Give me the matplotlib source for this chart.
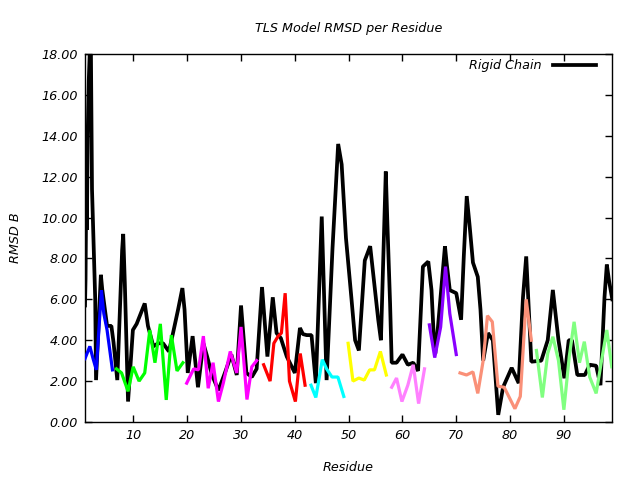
import matplotlib
matplotlib.use("Agg")
import matplotlib.pyplot as plt

# ---- data ----
rigid_x = [1.0, 1.1, 1.25, 1.35, 1.5, 1.7, 1.9, 2.1, 2.3, 2.6, 2.9, 3.05,
           3.95, 4.2, 5.1, 5.9, 6.3, 7.0, 7.9, 8.1, 8.4, 9.0, 9.9, 10.6,
           12.1, 12.7, 13.7, 14.6, 15.5, 16.6, 17.4, 18.3, 19.1, 19.5, 20.1,
           21.0, 22.0, 23.0, 23.7, 24.6, 25.8, 27.0, 28.2, 29.2, 30.0, 31.0,
           32.0, 32.9, 33.9, 34.9, 35.9, 36.6, 37.4, 38.5, 40.0, 40.95, 41.5,
           42.2, 43.1, 43.9, 45.0, 45.9, 47.0, 48.05, 48.7, 49.5, 50.5, 51.2,
           51.9, 53.0, 54.0, 55.5, 56.0, 56.9, 57.2, 57.7, 58.0, 58.9, 60.0,
           61.0, 62.0, 62.9, 63.8, 64.8, 65.4, 65.85, 66.1, 66.6, 67.9, 68.2,
           68.8, 70.0, 70.9, 71.4, 71.95, 72.5, 73.1, 74.0, 74.5, 75.0, 75.9,
           76.8, 77.8, 78.7, 80.3, 81.6, 82.4, 83.0, 83.95, 85.8, 87.0, 87.95,
           89.0, 90.1, 90.9, 91.5, 92.5, 93.9, 94.8, 96.0, 96.8, 97.55, 97.98,
           98.4, 99.0]
rigid_v = [5.7, 7.0, 11.9, 9.4, 14.0, 16.7, 18.2, 18.2, 11.4, 8.7, 6.0, 2.05,
           7.2, 6.5, 4.7, 4.7, 3.9, 2.05, 8.4, 9.2, 6.8, 1.0, 4.5, 4.8,
           5.8, 4.7, 3.7, 3.85, 3.85, 3.45, 4.4, 5.5, 6.55, 5.5, 2.4,
           4.2, 1.7, 3.85, 3.2, 2.3, 1.55, 2.4, 3.3, 2.3, 5.7, 2.4,
           2.2, 2.6, 6.6, 3.2, 6.1, 4.35, 4.1, 3.2, 2.4, 4.6, 4.3,
           4.25, 4.25, 1.9, 10.05, 2.05, 8.5, 13.6, 12.6, 9.0, 6.1, 4.0,
           3.5, 7.9, 8.6, 5.0, 4.0, 12.25, 9.7, 5.8, 2.9, 2.9, 3.3,
           2.8, 2.9, 2.5, 7.6, 7.85, 6.45, 4.0, 3.35, 4.65, 8.6, 7.8,
           6.45, 6.3, 5.0, 8.1, 11.05, 9.55, 7.8, 7.1, 5.5, 3.0, 4.35,
           4.0, 0.35, 1.7, 2.65, 1.9, 6.1, 8.1, 2.95, 3.0, 4.0, 6.46,
           4.0, 2.14, 4.0, 4.0, 2.3, 2.3, 2.8, 2.75, 1.8, 6.1, 7.7,
           6.9, 6.0]

group_blue_x = [1.0, 1.9, 2.5, 3.1, 4.05, 4.5, 5.1, 6.1]
group_blue_v = [3.1, 3.7, 3.1, 2.55, 6.45, 5.3, 4.5, 2.55]

group_green_x = [6.85, 7.8, 9.0, 9.95, 11.05, 12.1, 13.05, 14.0, 15.0, 16.1, 17.05, 18.1, 19.2]
group_green_v = [2.6, 2.4, 1.5, 2.7, 2.0, 2.4, 4.5, 2.9, 4.8, 1.08, 4.25, 2.5, 2.9]

group_magenta_x = [19.9, 21.2, 22.1, 23.0, 23.9, 24.8, 25.8, 26.7, 28.0, 29.2, 30.0, 31.1, 32.0, 32.9]
group_magenta_v = [1.9, 2.6, 2.55, 4.2, 1.65, 2.9, 1.0, 1.9, 3.45, 2.4, 4.65, 1.1, 2.7, 3.0]

group_red_x = [34.2, 35.4, 36.1, 36.9, 37.5, 38.2, 39.0, 40.1, 41.0, 41.9]
group_red_v = [2.8, 2.0, 3.85, 4.2, 4.35, 6.3, 2.0, 1.0, 3.35, 1.8]

group_cyan_x = [43.0, 43.9, 45.1, 45.9, 46.9, 48.0, 49.1]
group_cyan_v = [1.8, 1.2, 3.05, 2.6, 2.2, 2.2, 1.25]

group_yellow_x = [49.9, 50.8, 51.9, 52.9, 53.9, 54.8, 55.9, 57.0]
group_yellow_v = [3.85, 2.0, 2.15, 2.05, 2.55, 2.55, 3.45, 2.3]

group_pink_x = [58.0, 58.9, 59.9, 61.0, 62.0, 63.0, 64.1]
group_pink_v = [1.7, 2.15, 1.0, 1.8, 2.8, 0.9, 2.6]

group_purple_x = [65.0, 66.0, 67.1, 68.0, 68.8, 70.0]
group_purple_v = [4.75, 3.15, 4.65, 7.6, 5.3, 3.3]

group_salmon_x = [70.7, 71.9, 73.1, 74.0, 75.0, 75.8, 76.7, 77.75, 78.9, 80.9, 81.9, 83.0, 83.95]
group_salmon_v = [2.4, 2.3, 2.45, 1.4, 3.0, 5.2, 4.9, 1.75, 1.7, 0.65, 1.25, 6.0, 4.0]

group_lgreen_x = [84.9, 86.0, 87.0, 87.96, 89.0, 90.0, 91.0, 91.9, 92.9, 93.8, 94.8, 96.0, 97.0, 97.98, 98.9]
group_lgreen_v = [3.5, 1.2, 3.36, 4.17, 3.0, 0.6, 3.2, 4.9, 2.9, 3.93, 2.2, 1.4, 3.0, 4.5, 2.7]

groups = [
    (group_blue_x, group_blue_v, "#0000ff"),
    (group_green_x, group_green_v, "#00ff00"),
    (group_magenta_x, group_magenta_v, "#ff00ff"),
    (group_red_x, group_red_v, "#ff0000"),
    (group_cyan_x, group_cyan_v, "#00ffff"),
    (group_yellow_x, group_yellow_v, "#ffff00"),
    (group_pink_x, group_pink_v, "#ff80ff"),
    (group_purple_x, group_purple_v, "#8a00ff"),
    (group_salmon_x, group_salmon_v, "#fa9078"),
    (group_lgreen_x, group_lgreen_v, "#80ff80"),
]

x_ticks = [10, 20, 30, 40, 50, 60, 70, 80, 90]
y_ticks = [0, 2, 4, 6, 8, 10, 12, 14, 16, 18]

FS = 9.2

# ---- figure ----
plt.rcParams['font.family'] = ['DejaVu Sans']
fig = plt.figure(figsize=(6.4, 4.8), dpi=100)
ax = fig.add_axes([85 / 640, 58 / 480, (612.3 - 85) / 640, (422 - 54) / 480])

ax.plot(rigid_x, rigid_v, color="black", lw=2.7, label="Rigid Chain",
        solid_joinstyle="bevel", zorder=2)
for gx, gv, col in groups:
    ax.plot(gx, gv, color=col, lw=2.3, zorder=3, solid_joinstyle="bevel")

ax.set_xlim(1, 99)
ax.set_ylim(0, 18)
ax.set_xticks(x_ticks)
ax.set_yticks(y_ticks)
ax.set_yticklabels([f"{t:.2f}" for t in y_ticks])
ax.tick_params(direction="in", length=5, width=1, top=True, right=True,
               labelsize=FS, colors="black", pad=5)
for lab in ax.get_xticklabels() + ax.get_yticklabels():
    lab.set_fontstyle("italic")
for s in ax.spines.values():
    s.set_linewidth(1.0)

ax.set_title("TLS Model RMSD per Residue", fontsize=FS, style="italic", pad=16)
ax.set_xlabel("Residue", fontsize=FS, style="italic", labelpad=14)
ax.set_ylabel("RMSD B", fontsize=FS, style="italic", labelpad=14)

leg = ax.legend(loc="center right", frameon=False, markerfirst=False,
                handlelength=3.4, handletextpad=0.85,
                prop={"style": "italic", "size": FS},
                bbox_to_anchor=(0.979, 0.968), borderaxespad=0.0)

fig.savefig("out.png", dpi=100)
